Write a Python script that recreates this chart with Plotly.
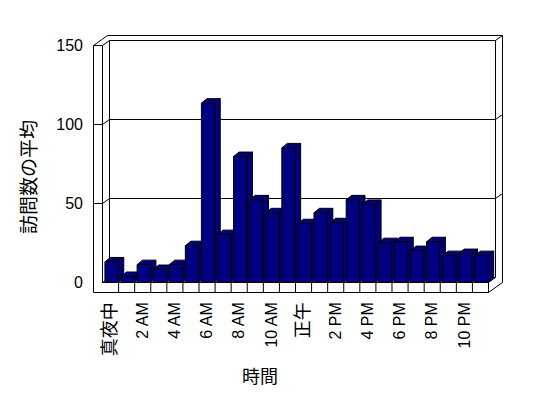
import plotly.graph_objects as go

# ---------------- data ----------------
hours = ["真夜中", "1 AM", "2 AM", "3 AM", "4 AM", "5 AM", "6 AM", "7 AM", "8 AM", "9 AM",
         "10 AM", "11 AM", "正午", "1 PM", "2 PM", "3 PM", "4 PM", "5 PM", "6 PM", "7 PM",
         "8 PM", "9 PM", "10 PM", "11 PM"]
visits = [13.0, 3.8, 11.3, 8.2, 11.3, 23.3, 113.5, 30.3, 79.7, 52.3, 44.1, 85.2,
          37.2, 44.1, 37.8, 52.3, 49.4, 25.2, 25.8, 20.2, 25.8, 17.0, 18.3, 17.0]
shown_labels = ["真夜中", "2 AM", "4 AM", "6 AM", "8 AM", "10 AM", "正午",
                "2 PM", "4 PM", "6 PM", "8 PM", "10 PM"]
y_ticks = [0, 50, 100, 150]
grid_vals = [50, 100]
y_title = "訪問数の平均"
x_title = "時間"

# ---------------- geometry (pixels -> data units) ----------------
W, H = 548, 398
ML, MR, MT, MB = 84, 28, 28, 100
PX_PER_CAT = 16.083
PX_CAT0 = 102.5 + PX_PER_CAT / 2   # pixel x of category 0 centre on the front plane
PX_Y0 = 282.5                      # pixel y of value 0 on the front plane
PX_PER_VAL = 1.58

def u(px):
    return (px - PX_CAT0) / PX_PER_CAT

def v(py):
    return (PX_Y0 - py) / PX_PER_VAL

x_range = [u(ML), u(W - MR)]
y_range = [v(H - MB), v(MT)]

n = len(hours)
idx = list(range(n))
YMAX = 150
DXw, DYw = 7.0 / PX_PER_CAT, 5.0 / PX_PER_VAL      # wall depth
DXb, DYb = 5.5 / PX_PER_CAT, 4.5 / PX_PER_VAL      # bar depth
WALL_T = 9.0 / PX_PER_CAT
FLOOR_T = 10.0 / PX_PER_VAL
BAR_OFF = -0.35
BAR_W = 0.83

xl_out = -0.5 - WALL_T
xl_in = -0.5
xr = n - 0.5
vb = -FLOOR_T
vt = YMAX

segs = []
def seg(a, b):
    segs.append(f"M{a[0]},{a[1]} L{b[0]},{b[1]}")

# left wall front face
seg((xl_out, vb), (xl_out, vt))
seg((xl_out, vt), (xl_in, vt))
seg((xl_in, vt), (xl_in, 0))
# floor front
seg((xl_out, vb), (xr, vb))
seg((xl_in, 0), (xr, 0))
seg((xr, 0), (xr, vb))
for k in range(1, n):
    seg((xl_in + k, 0), (xl_in + k, vb))
# floor / back wall right end
seg((xr, 0), (xr + DXw, DYw))
seg((xr, vb), (xr + 2 * DXw, vb + 2 * DYw))
seg((xr + DXw, DYw), (xr + DXw, vt + DYw))
seg((xr + 2 * DXw, vb + 2 * DYw), (xr + 2 * DXw, vt + 2 * DYw))
# tops
seg((xl_out, vt), (xl_out + 2 * DXw, vt + 2 * DYw))
seg((xl_in, vt), (xl_in + DXw, vt + DYw))
seg((xl_in + DXw, vt + DYw), (xr + DXw, vt + DYw))
seg((xl_out + 2 * DXw, vt + 2 * DYw), (xr + 2 * DXw, vt + 2 * DYw))
seg((xr + DXw, vt + DYw), (xr + 2 * DXw, vt + 2 * DYw))
# back wall edges
seg((xl_in + DXw, DYw), (xl_in + DXw, vt + DYw))
seg((xl_in + DXw, DYw), (xr + DXw, DYw))
seg((xl_in, 0), (xl_in + DXw, DYw))
# gridlines
for g in grid_vals:
    seg((xl_out, g), (xl_in, g))
    seg((xl_in, g), (xl_in + DXw, g + DYw))
    seg((xl_in + DXw, g + DYw), (xr + DXw, g + DYw))
    seg((xr + DXw, g + DYw), (xr + 2 * DXw, g + 2 * DYw))

shapes = [dict(type="path", path=" ".join(segs), xref="x", yref="y",
               line=dict(color="black", width=1), layer="below")]

NAVY = "#000080"
for i, val in enumerate(visits):
    L = i + BAR_OFF
    R = L + BAR_W
    side = f"M{R},0 L{R + DXb},{DYb} L{R + DXb},{val + DYb} L{R},{val} Z"
    top = f"M{L},{val} L{L + DXb},{val + DYb} L{R + DXb},{val + DYb} L{R},{val} Z"
    for p in (side, top):
        shapes.append(dict(type="path", path=p, xref="x", yref="y",
                           fillcolor=NAVY, line=dict(color="black", width=1),
                           layer="below"))

fig = go.Figure()
fig.add_trace(go.Bar(x=idx, y=visits, width=BAR_W, offset=BAR_OFF,
                     marker=dict(color=NAVY, line=dict(color="black", width=1)),
                     hovertext=hours, showlegend=False))

def lab(t):
    if any(ord(c) > 0x3000 for c in t):
        return f'<span style="font-size:18px">{t}</span>'
    return t

tickvals = [hours.index(t) for t in shown_labels]
FONT = "Liberation Sans, Arial, Noto Sans CJK JP, sans-serif"

fig.update_layout(
    width=W, height=H, autosize=False,
    margin=dict(l=ML, r=MR, t=MT, b=MB, pad=0),
    paper_bgcolor="white", plot_bgcolor="white",
    font=dict(family=FONT, size=16, color="black"),
    shapes=shapes,
    xaxis=dict(range=x_range, showgrid=False, zeroline=False, showline=False,
               tickmode="array", tickvals=tickvals,
               ticktext=[lab(t) for t in shown_labels],
               tickangle=-90, ticks="", fixedrange=True),
    yaxis=dict(range=y_range, showgrid=False, zeroline=False, showline=False,
               tickmode="array", tickvals=y_ticks, ticks="", fixedrange=True),
    annotations=[
        dict(text=y_title, textangle=-90, xref="paper", yref="paper",
             x=(27.5 - ML) / (W - ML - MR), y=1 - (177.5 - MT) / (H - MT - MB),
             showarrow=False, font=dict(family="Noto Sans CJK JP", size=19),
             xanchor="center", yanchor="middle"),
        dict(text=x_title, xref="paper", yref="paper",
             x=(260 - ML) / (W - ML - MR), y=1 - (374.5 - MT) / (H - MT - MB),
             showarrow=False, font=dict(family="Noto Sans CJK JP", size=18),
             xanchor="center", yanchor="middle"),
    ],
)

fig.write_html("out.html")
